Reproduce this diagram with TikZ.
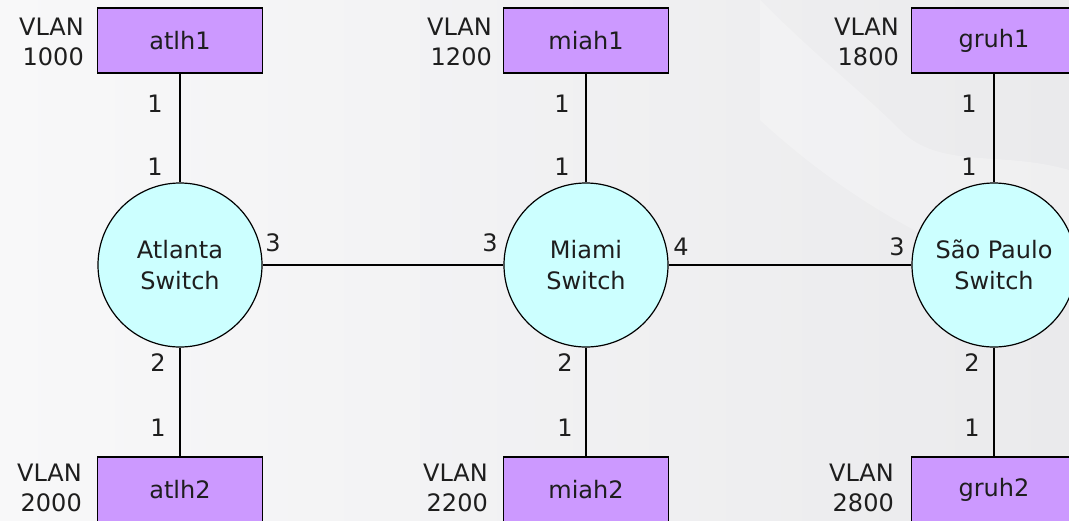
\documentclass[tikz,border=0pt]{standalone}
\usepackage{fontspec}
\setmainfont{DejaVu Sans}
\definecolor{hostfill}{HTML}{CC99FF}
\definecolor{switchfill}{HTML}{CCFFFF}
\definecolor{bgleft}{HTML}{F8F8F9}
\definecolor{bgright}{HTML}{EAEAEC}
\definecolor{ink}{HTML}{1E1E1E}
\tikzset{
  host/.style={draw=black, line width=1.3pt, fill=hostfill, minimum width=165pt,
    minimum height=65pt, inner sep=0pt, text=ink, font=\fontsize{24}{31}\selectfont},
  switchnode/.style={circle, draw=black, line width=1.2pt, fill=switchfill,
    minimum size=164pt, inner sep=0pt, align=center, text=ink,
    font=\fontsize{24}{31}\selectfont},
  vlan/.style={align=right, inner sep=0pt, text=ink, font=\fontsize{24}{30}\selectfont},
  port/.style={inner sep=0pt, text=ink, font=\fontsize{24}{26}\selectfont},
  link/.style={line width=1.3pt, black}
}
\begin{document}
\begin{tikzpicture}[x=1pt, y=-1pt]
  \useasboundingbox (0,0) rectangle (1069,520);
  \clip (0,0) rectangle (1069,520);
  % backdrop
  \shade[left color=bgleft, right color=bgright] (0,0) rectangle (1069,520);
  \fill[white, opacity=0.25] (760,0) .. controls (820,60) and (860,90) .. (900,130)
      .. controls (940,170) and (1000,150) .. (1069,170) -- (1069,300)
      .. controls (980,260) and (880,230) .. (760,120) -- cycle;

  % switches
  \node[switchnode] (atl) at (180,265) {Atlanta\\Switch};
  \node[switchnode] (mia) at (586,265) {Miami\\Switch};
  \node[switchnode] (sao) at (994,265) {São Paulo\\Switch};

  % hosts
  \node[host] (atlh1) at (180,40.5) {atlh1};
  \node[host] (miah1) at (586,40.5) {miah1};
  \node[host] (gruh1) at (994,40.5) {gruh1};
  \node[host] (atlh2) at (180,489.5) {atlh2};
  \node[host] (miah2) at (586,489.5) {miah2};
  \node[host] (gruh2) at (994,489.5) {gruh2};

  % VLAN tags
  \node[vlan, anchor=east] (v1000) at (84,42) {VLAN\\1000};
  \node[vlan, anchor=east] (v1200) at (492,42) {VLAN\\1200};
  \node[vlan, anchor=east] (v1800) at (899,42) {VLAN\\1800};
  \node[vlan, anchor=east] (v2000) at (82,488) {VLAN\\2000};
  \node[vlan, anchor=east] (v2200) at (488,488) {VLAN\\2200};
  \node[vlan, anchor=east] (v2800) at (894,488) {VLAN\\2800};

  % links
  \draw[link] (atlh1) -- (atl);
  \draw[link] (miah1) -- (mia);
  \draw[link] (gruh1) -- (sao);
  \draw[link] (atl) -- (atlh2);
  \draw[link] (mia) -- (miah2);
  \draw[link] (sao) -- (gruh2);
  \draw[link] (atl) -- (mia);
  \draw[link] (mia) -- (sao);

  % port numbers
  \node[port] (pa1h) at (155,104) {1};
  \node[port] (pa1s) at (155,167) {1};
  \node[port] (pa2s) at (158,363) {2};
  \node[port] (pa1b) at (158,428) {1};
  \node[port] (pa3)  at (273,243) {3};
  \node[port] (pm1h) at (562,104) {1};
  \node[port] (pm1s) at (562,167) {1};
  \node[port] (pm2s) at (565,363) {2};
  \node[port] (pm1b) at (565,428) {1};
  \node[port] (pm3)  at (490,243) {3};
  \node[port] (pm4)  at (681,247) {4};
  \node[port] (ps1h) at (969,104) {1};
  \node[port] (ps1s) at (969,167) {1};
  \node[port] (ps2s) at (972,363) {2};
  \node[port] (ps1b) at (972,428) {1};
  \node[port] (ps3)  at (897,247) {3};
\end{tikzpicture}
\end{document}
